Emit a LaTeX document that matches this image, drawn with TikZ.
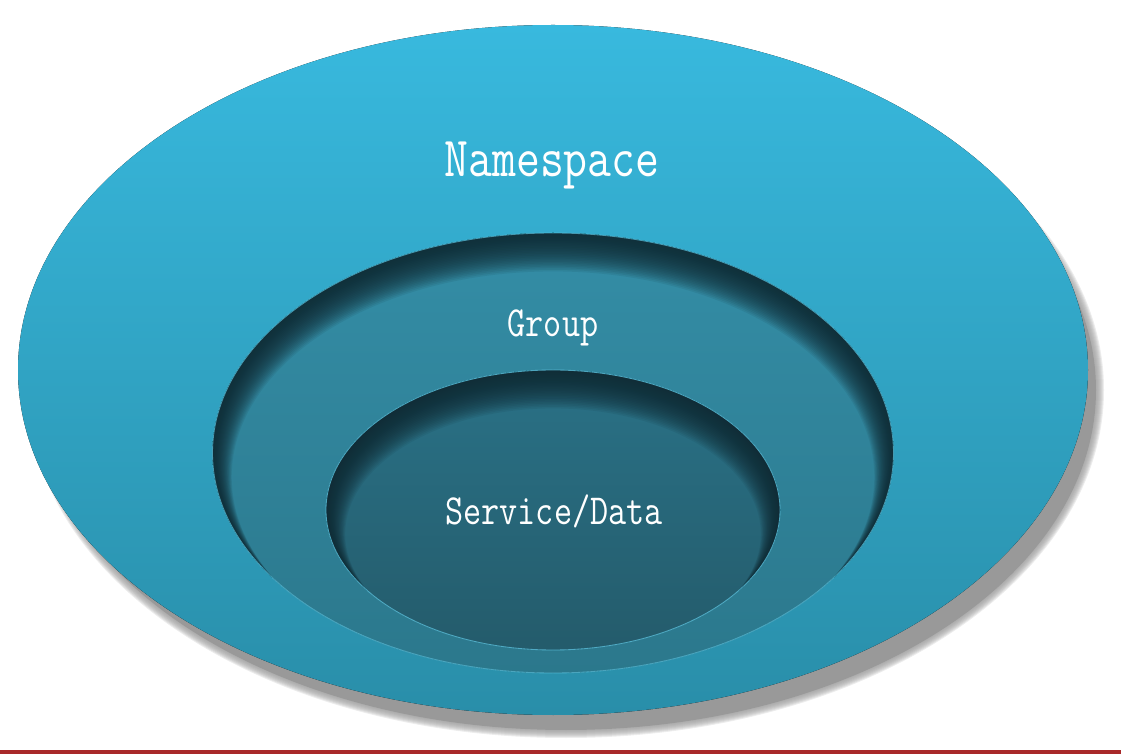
\documentclass[tikz,border=0pt]{standalone}
\usepackage{graphicx}

\definecolor{nsTop}{HTML}{38B9DE}
\definecolor{nsBot}{HTML}{298EA9}
\definecolor{grpTop}{HTML}{348EA7}
\definecolor{grpBot}{HTML}{2B778B}
\definecolor{svcTop}{HTML}{2A7287}
\definecolor{svcBot}{HTML}{245B6B}
\definecolor{rimDark}{HTML}{102A33}
\definecolor{rimLight}{HTML}{5CC2DE}
\definecolor{shadowGray}{HTML}{999999}
\definecolor{baseRed}{HTML}{A8292A}

\begin{document}
\begin{tikzpicture}[
x=0.025cm, y=-0.025cm,
lbl/.style={text=white, inner sep=0pt},
bigfont/.style={font=\fontsize{33}{33}\selectfont\ttfamily},
smallfont/.style={font=\fontsize{25}{25}\selectfont\ttfamily},
inset/.style={rimDark, opacity=0.09, even odd rule}
]
\useasboundingbox (0,0) rectangle (1121,754);

% drop shadow of the outer ring
\fill[shadowGray] (566,390) ellipse (530 and 340);
\foreach \k in {1,...,8}
  \fill[shadowGray, opacity=0.18] (566,390) ellipse ({530+\k} and {340+\k});

% namespace
\fill[top color=nsTop, bottom color=nsBot] (553,370) ellipse (535 and 345);

% group
\begin{scope}
  \clip (553,453) ellipse (340.5 and 220);
  \fill[top color=grpTop, bottom color=grpBot] (200,220) rectangle (900,690);
  \foreach \k in {1,...,24}
    \fill[inset] (200,220) rectangle (900,690)
      (553,{453+\k}) ellipse ({340.5-0.8*\k} and {220-0.6*\k});
\end{scope}
\draw[rimLight, line width=0.6pt, opacity=0.7] (553,453) ellipse (340.5 and 220);

% service/data
\begin{scope}
  \clip (553,510) ellipse (227 and 140);
  \fill[top color=svcTop, bottom color=svcBot] (320,365) rectangle (790,655);
  \foreach \k in {1,...,24}
    \fill[inset] (320,365) rectangle (790,655)
      (553,{510+\k}) ellipse ({227-0.8*\k} and {140-0.6*\k});
\end{scope}
\draw[rimLight, line width=0.6pt, opacity=0.8] (553,510) ellipse (227 and 140);

\node[lbl, bigfont] (ns) at (552,165) {\scalebox{1}[1.22]{Namespace}};
\node[lbl, smallfont] (grp) at (553,328) {\scalebox{1}[1.22]{Group}};
\node[lbl, smallfont] (svc) at (554,511) {\scalebox{1}[1.22]{Service/Data}};

\fill[baseRed] (0,750) rectangle (1121,754);
\end{tikzpicture}
\end{document}
